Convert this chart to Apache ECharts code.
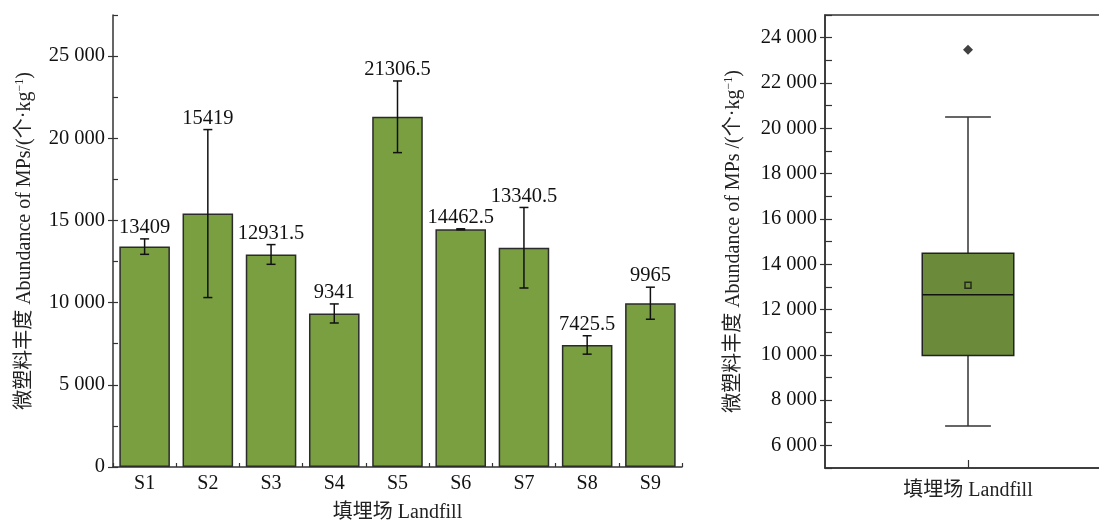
<!DOCTYPE html>
<html>
<head>
<meta charset="utf-8">
<script src="https://cdn.jsdelivr.net/npm/echarts@6/dist/echarts.min.js"></script>
<style>html,body{margin:0;padding:0;background:#fff}#c{width:1099px;height:522px}</style>
</head>
<body>
<div id="c"></div>
<script>
const categories = ['S1', 'S2', 'S3', 'S4', 'S5', 'S6', 'S7', 'S8', 'S9'];
const means = [13409, 15419, 12931.5, 9341, 21306.5, 14462.5, 13340.5, 7425.5, 9965];
const errors = [470, 5110, 600, 580, 2180, 30, 2450, 560, 975];
const meanLabels = ['13409', '15419', '12931.5', '9341', '21306.5', '14462.5', '13340.5', '7425.5', '9965'];
const boxCategory = ['填埋场 Landfill'];
const boxStats = [6850, 9965, 12650, 14480, 20500]; // min, Q1, median, Q3, max
const boxMean = [13067];
const boxOutliers = [23470];
const leftTicks = [0, 5000, 10000, 15000, 20000, 25000];
const rightTicks = [6000, 8000, 10000, 12000, 14000, 16000, 18000, 20000, 22000, 24000];

const FONT = '"Liberation Serif", "Noto Sans CJK SC", serif';
const AX = '#333';
const fmt = v => String(v).replace(/\B(?=(\d{3})+(?!\d))/g, ' ');
const richName = { sup: { fontSize: 12, fontFamily: FONT, color: '#222', verticalAlign: 'top', padding: [0, 0, 9, 0] } };

const chart = echarts.init(document.getElementById('c'), null, { renderer: 'canvas' });

const option = {
  animation: false,
  backgroundColor: '#fff',
  textStyle: { fontFamily: FONT },
  grid: [
    { left: 113, top: 15, right: 417, bottom: 55, containLabel: false, outerBoundsMode: 'none' },
    { left: 825, top: 15, right: -12, bottom: 54, containLabel: false, outerBoundsMode: 'none', show: true, borderColor: AX, borderWidth: 1.5, backgroundColor: 'transparent' }
  ],
  xAxis: [
    {
      type: 'category', gridIndex: 0, data: categories,
      axisLine: { lineStyle: { color: AX, width: 1.5 } },
      axisTick: { show: true, inside: true, length: 4, lineStyle: { color: AX, width: 1.2 } },
      axisLabel: { color: '#111', fontSize: 20, fontFamily: FONT, margin: 7 },
      name: '填埋场 Landfill', nameLocation: 'middle', nameGap: 36,
      nameTextStyle: { color: '#222', fontSize: 20, fontFamily: FONT }
    },
    {
      type: 'category', gridIndex: 1, data: boxCategory,
      axisLine: { lineStyle: { color: AX, width: 1.5 } },
      axisTick: { show: true, inside: true, length: 8, alignWithLabel: true, lineStyle: { color: AX, width: 1.2 } },
      axisLabel: { color: '#222', fontSize: 20, fontFamily: FONT, margin: 13 }
    }
  ],
  yAxis: [
    {
      type: 'value', gridIndex: 0, position: 'left', min: 0, max: 27500, interval: 5000,
      axisLine: { show: true, lineStyle: { color: AX, width: 1.5 } },
      axisTick: { show: true, inside: false, length: 5, lineStyle: { color: AX, width: 1.2 } },
      splitLine: { show: false },
      axisLabel: { color: '#111', fontSize: 20.5, fontFamily: FONT, margin: 8, showMaxLabel: false,
        formatter: v => (v % 5000 === 0 ? fmt(v) : '') },
      name: '微塑料丰度 Abundance of MPs/(个·kg{sup|−1})', nameLocation: 'middle', nameGap: 78, nameRotate: 90,
      nameTextStyle: { color: '#222', fontSize: 20, fontFamily: FONT, rich: richName }
    },
    {
      type: 'value', gridIndex: 0, position: 'left', min: 0, max: 27500, interval: 5000,
      axisLine: { show: false },
      axisTick: { show: true, inside: true, length: 5, lineStyle: { color: AX, width: 1.2 } },
      minorTick: { show: true, splitNumber: 2, length: 5, lineStyle: { color: AX, width: 1.2 } },
      splitLine: { show: false },
      axisLabel: { show: false }
    },
    {
      type: 'value', gridIndex: 1, position: 'left', min: 5000, max: 25000, interval: 1000,
      axisLine: { show: true, lineStyle: { color: AX, width: 1.5 } },
      axisTick: { show: true, inside: true, length: 7, lineStyle: { color: AX, width: 1.2 } },
      splitLine: { show: false },
      axisLabel: { color: '#111', fontSize: 20.5, fontFamily: FONT, margin: 8,
        formatter: v => (v % 2000 === 0 && v > 5000 && v < 25000 ? fmt(v) : '') },
      name: '微塑料丰度 Abundance of MPs /(个·kg{sup|−1})', nameLocation: 'middle', nameGap: 81, nameRotate: 90,
      nameTextStyle: { color: '#222', fontSize: 20, fontFamily: FONT, rich: richName }
    },
    {
      type: 'value', gridIndex: 1, position: 'left', min: 5000, max: 25000, interval: 1000,
      axisLine: { show: false },
      axisTick: { show: true, inside: false, length: 5, customValues: rightTicks, lineStyle: { color: AX, width: 1.2 } },
      splitLine: { show: false },
      axisLabel: { show: false }
    }
  ],
  series: [
    {
      type: 'bar', xAxisIndex: 0, yAxisIndex: 0, data: means, barWidth: '80%',
      itemStyle: { color: '#799f41', borderColor: '#2b2b2b', borderWidth: 1.5 }
    },
    {
      type: 'custom', xAxisIndex: 0, yAxisIndex: 0, z: 5,
      data: means.map((m, i) => [i, m - errors[i], m + errors[i], m]),
      renderItem: function (params, api) {
        const i = api.value(0);
        const lo = api.coord([i, api.value(1)]);
        const hi = api.coord([i, api.value(2)]);
        const cap = 4.5;
        const ls = { stroke: '#111', lineWidth: 1.5 };
        return {
          type: 'group',
          children: [
            { type: 'line', shape: { x1: hi[0], y1: hi[1], x2: lo[0], y2: lo[1] }, style: ls },
            { type: 'line', shape: { x1: hi[0] - cap, y1: hi[1], x2: hi[0] + cap, y2: hi[1] }, style: ls },
            { type: 'line', shape: { x1: lo[0] - cap, y1: lo[1], x2: lo[0] + cap, y2: lo[1] }, style: ls },
            { type: 'text', style: { text: meanLabels[params.dataIndex], x: hi[0], y: hi[1] - 1,
                align: 'center', verticalAlign: 'bottom', fontSize: 20.5, fontFamily: FONT, fill: '#111' } }
          ]
        };
      }
    },
    {
      type: 'custom', xAxisIndex: 1, yAxisIndex: 2, z: 3,
      data: [[0].concat(boxStats)],
      renderItem: function (params, api) {
        const x = api.coord([0, api.value(1)])[0];
        const bw = api.size([1, 0])[0] * 0.32;
        const y = k => api.coord([0, api.value(k)])[1];
        const yMin = y(1), yQ1 = y(2), yMed = y(3), yQ3 = y(4), yMax = y(5);
        const ls = { stroke: '#333', lineWidth: 1.5 };
        const cw = bw / 4;
        return {
          type: 'group',
          children: [
            { type: 'line', shape: { x1: x, y1: yMax, x2: x, y2: yQ3 }, style: ls },
            { type: 'line', shape: { x1: x, y1: yQ1, x2: x, y2: yMin }, style: ls },
            { type: 'line', shape: { x1: x - cw, y1: yMax, x2: x + cw, y2: yMax }, style: ls },
            { type: 'line', shape: { x1: x - cw, y1: yMin, x2: x + cw, y2: yMin }, style: ls },
            { type: 'rect', shape: { x: x - bw / 2, y: yQ3, width: bw, height: yQ1 - yQ3 },
              style: { fill: '#6b8a3a', stroke: '#222', lineWidth: 1.5 } },
            { type: 'line', shape: { x1: x - bw / 2, y1: yMed, x2: x + bw / 2, y2: yMed }, style: { stroke: '#111', lineWidth: 1.5 } }
          ]
        };
      }
    },
    {
      type: 'scatter', xAxisIndex: 1, yAxisIndex: 2, z: 6,
      data: boxMean.map(v => [0, v]), symbol: 'rect', symbolSize: 6,
      itemStyle: { color: 'rgba(0,0,0,0)', borderColor: '#111', borderWidth: 1.5 }
    },
    {
      type: 'scatter', xAxisIndex: 1, yAxisIndex: 2, z: 6,
      data: boxOutliers.map(v => [0, v]), symbol: 'diamond', symbolSize: 10,
      itemStyle: { color: '#111' }
    }
  ]
};
chart.setOption(option);
</script>
</body>
</html>
